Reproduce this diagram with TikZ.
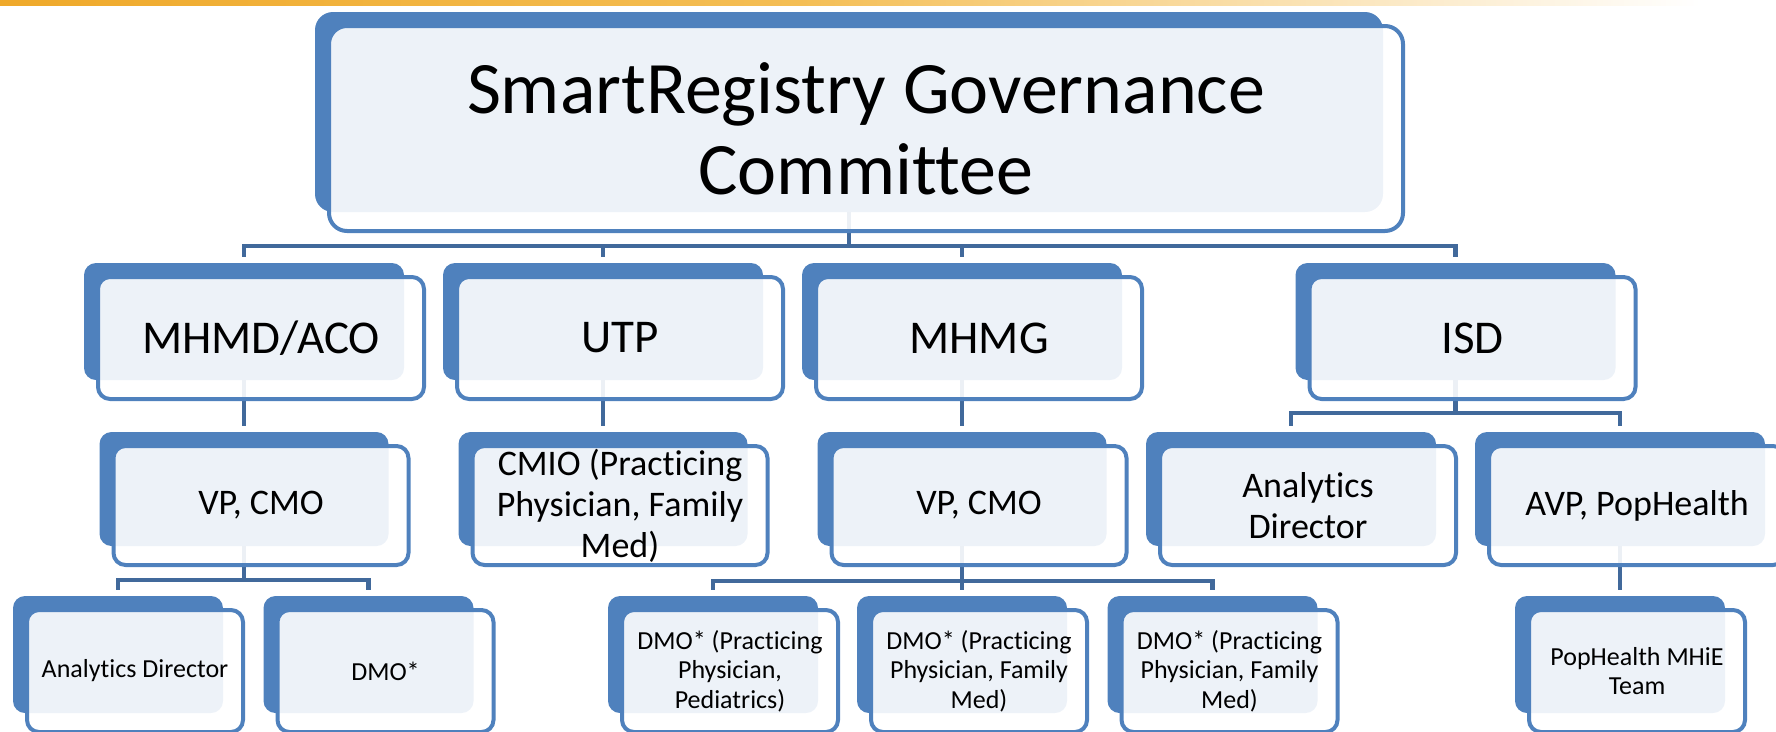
\documentclass[tikz,border=0pt]{standalone}
\usepackage{fontspec}
\setmainfont{Carlito}[Ligatures=NoCommon]
\usetikzlibrary{backgrounds}
\definecolor{boxblue}{HTML}{4F81BD}
\definecolor{linkblue}{HTML}{41699B}
\definecolor{barorange}{HTML}{EFA92A}
\definecolor{barlight}{HTML}{F4BE55}
\tikzset{
  back/.style={rectangle,rounded corners=12pt,fill=boxblue,inner sep=0pt},
  front/.style={rectangle,rounded corners=12pt,draw=boxblue,line width=4pt,
    fill=white,fill opacity=0.9,text opacity=1,inner sep=0pt,align=center},
  link/.style={draw=linkblue,line width=4.5pt,shorten >=6pt},
  big/.style={font=\fontsize{74}{81}\selectfont},
  lvlone/.style={font=\fontsize{47}{55}\selectfont},
  lvltwo/.style={font=\fontsize{36}{41}\selectfont},
  lvlthree/.style={font=\fontsize{26}{29.5}\selectfont},
}
\begin{document}
\begin{tikzpicture}[x=1pt,y=-1pt]
   \useasboundingbox (0,0) rectangle (1776,731);
   \clip (0,0) rectangle (1776,731);
   %orange strip
   \shade[left color=barorange,right color=barlight] (0,0) rectangle (800,5);
   \shade[left color=barlight,right color=white] (800,0) rectangle (1700,5);
   %committee
   \node[back,rounded corners=18pt,minimum width=1068pt,minimum height=200pt] (top-b) at (849,112) {};
   \node[front,rounded corners=18pt,minimum width=1074pt,minimum height=205pt,big] (top) at ([shift={(17,16.5)}]top-b.center) {SmartRegistry Governance\\Committee};
   %first level
   \node[back,minimum width=320pt,minimum height=117pt] (mhmd-b) at (244,321.5) {};
   \node[back,minimum width=320pt,minimum height=117pt] (utp-b) at (603,321.5) {};
   \node[back,minimum width=320pt,minimum height=117pt] (mhmg-b) at (962,321.5) {};
   \node[back,minimum width=320pt,minimum height=117pt] (isd-b) at (1455.5,321.5) {};
   \node[front,minimum width=326pt,minimum height=122pt,lvlone] (mhmd) at ([shift={(17,16.5)}]mhmd-b.center) {MHMD/ACO};
   \node[front,minimum width=326pt,minimum height=122pt,lvlone] (utp) at ([shift={(17,16.5)}]utp-b.center) {UTP};
   \node[front,minimum width=326pt,minimum height=122pt,lvlone] (mhmg) at ([shift={(17,16.5)}]mhmg-b.center) {MHMG};
   \node[front,minimum width=326pt,minimum height=122pt,lvlone] (isd) at ([shift={(17,16.5)}]isd-b.center) {ISD};
   %second level
   \node[back,minimum width=289pt,minimum height=114pt] (vpa-b) at (244,489) {};
   \node[back,minimum width=289pt,minimum height=114pt] (cmio-b) at (603,489) {};
   \node[back,minimum width=289pt,minimum height=114pt] (vpb-b) at (962,489) {};
   \node[back,minimum width=290pt,minimum height=114pt] (anaisd-b) at (1291,489) {};
   \node[back,minimum width=290pt,minimum height=114pt] (avp-b) at (1620,489) {};
   \node[front,minimum width=295pt,minimum height=119pt,lvltwo] (vpa) at ([shift={(17,16.5)}]vpa-b.center) {VP, CMO};
   \node[front,minimum width=295pt,minimum height=119pt,lvltwo] (cmio) at ([shift={(17,16.5)}]cmio-b.center) {CMIO (Practicing\\Physician, Family\\Med)};
   \node[front,minimum width=295pt,minimum height=119pt,lvltwo] (vpb) at ([shift={(17,16.5)}]vpb-b.center) {VP, CMO};
   \node[front,minimum width=296pt,minimum height=119pt,lvltwo] (anaisd) at ([shift={(17,16.5)}]anaisd-b.center) {Analytics\\Director};
   \node[front,minimum width=296pt,minimum height=119pt,lvltwo] (avp) at ([shift={(17,16.5)}]avp-b.center) {AVP, PopHealth};
   %third level
   \node[back,minimum width=210pt,minimum height=117pt] (anaaco-b) at (118,654.5) {};
   \node[back,minimum width=210pt,minimum height=117pt] (dmo-b) at (368.5,654.5) {};
   \node[back,minimum width=210pt,minimum height=117pt] (dmoa-b) at (713,654.5) {};
   \node[back,minimum width=210pt,minimum height=117pt] (dmob-b) at (962,654.5) {};
   \node[back,minimum width=210pt,minimum height=117pt] (dmoc-b) at (1212.5,654.5) {};
   \node[back,minimum width=210pt,minimum height=117pt] (pop-b) at (1620,654.5) {};
   \node[front,minimum width=216pt,minimum height=122pt,lvlthree] (anaaco) at ([shift={(17,16.5)}]anaaco-b.center) {Analytics Director};
   \node[front,minimum width=216pt,minimum height=122pt,lvlthree] (dmo) at ([shift={(17,16.5)}]dmo-b.center) {DMO*};
   \node[front,minimum width=216pt,minimum height=122pt,lvlthree] (dmoa) at ([shift={(17,16.5)}]dmoa-b.center) {DMO* (Practicing\\Physician,\\Pediatrics)};
   \node[front,minimum width=216pt,minimum height=122pt,lvlthree] (dmob) at ([shift={(17,16.5)}]dmob-b.center) {DMO* (Practicing\\Physician, Family\\Med)};
   \node[front,minimum width=216pt,minimum height=122pt,lvlthree] (dmoc) at ([shift={(17,16.5)}]dmoc-b.center) {DMO* (Practicing\\Physician, Family\\Med)};
   \node[front,minimum width=216pt,minimum height=122pt,lvlthree] (pop) at ([shift={(17,16.5)}]pop-b.center) {PopHealth MHiE\\Team};
   %tree lines
   \begin{scope}[on background layer]
   \draw[link] (top-b.south) -- ++(0,34) -| (mhmd-b.north);
   \draw[link] (top-b.south) -- ++(0,34) -| (utp-b.north);
   \draw[link] (top-b.south) -- ++(0,34) -| (mhmg-b.north);
   \draw[link] (top-b.south) -- ++(0,34) -| (isd-b.north);
   \draw[link] (mhmd-b.south) -- (vpa-b.north);
   \draw[link] (utp-b.south) -- (cmio-b.north);
   \draw[link] (mhmg-b.south) -- (vpb-b.north);
   \draw[link] (isd-b.south) -- ++(0,33) -| (anaisd-b.north);
   \draw[link] (isd-b.south) -- ++(0,33) -| (avp-b.north);
   \draw[link] (vpa-b.south) -- ++(0,34) -| (anaaco-b.north);
   \draw[link] (vpa-b.south) -- ++(0,34) -| (dmo-b.north);
   \draw[link] (vpb-b.south) -- ++(0,35) -| (dmoa-b.north);
   \draw[link] (vpb-b.south) -- ++(0,35) -| (dmob-b.north);
   \draw[link] (vpb-b.south) -- ++(0,35) -| (dmoc-b.north);
   \draw[link] (avp-b.south) -- (pop-b.north);
   \end{scope}
\end{tikzpicture}
\end{document}
